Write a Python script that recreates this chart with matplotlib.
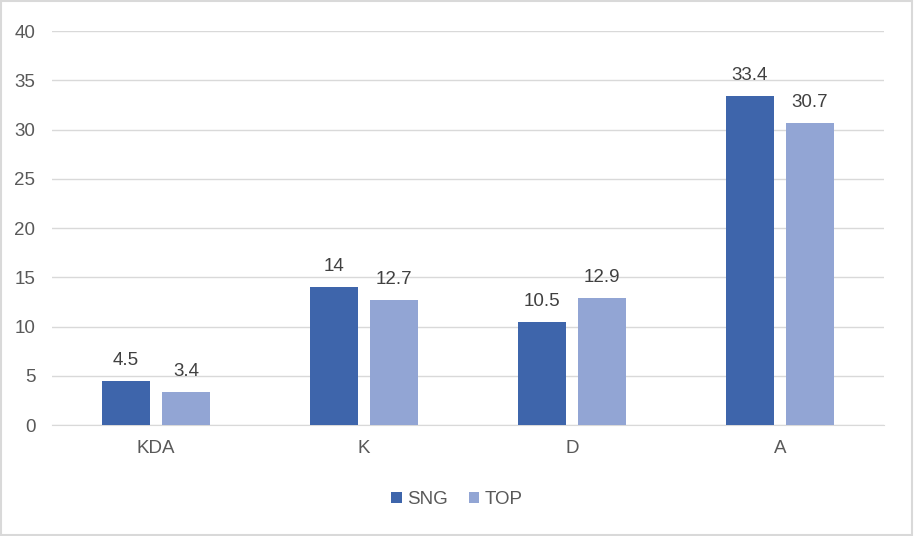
import numpy as np
import matplotlib.pyplot as plt
from matplotlib.patches import Rectangle

# chart data
categories = ["KDA", "K", "D", "A"]
sng = [4.5, 14, 10.5, 33.4]
top = [3.4, 12.7, 12.9, 30.7]
labels_sng = ["4.5", "14", "10.5", "33.4"]
labels_top = ["3.4", "12.7", "12.9", "30.7"]

plt.rcParams['font.family'] = ['Liberation Sans', 'DejaVu Sans']
textColor = "#595959"
fs = 13.5

fig = plt.figure(figsize=(9.14, 5.36), dpi=100)
ax = fig.add_axes([0.057, 0.207, 0.91, 0.735])

x = np.arange(len(categories))
w = 0.23
off = 0.144
barsS = ax.bar(x - off, sng, w, color="#3E65AB", label="SNG", zorder=3)
barsT = ax.bar(x + off, top, w, color="#92A5D4", label="TOP", zorder=3)

for b, t in zip(barsS, labels_sng):
    ax.text(b.get_x() + b.get_width() / 2, b.get_height() + 1.2, t,
            ha="center", va="bottom", fontsize=fs, color="#404040")
for b, t in zip(barsT, labels_top):
    ax.text(b.get_x() + b.get_width() / 2, b.get_height() + 1.2, t,
            ha="center", va="bottom", fontsize=fs, color="#404040")

ax.set_xlim(-0.5, len(categories) - 0.5)
ax.set_ylim(0, 40)
ax.set_yticks(range(0, 41, 5))
ax.set_xticks(x)
ax.set_xticklabels(categories)
ax.yaxis.grid(True, color="#D9D9D9", linewidth=1, zorder=0)
ax.tick_params(axis="both", length=0, labelsize=fs, colors=textColor)
ax.tick_params(axis="x", pad=11)
ax.tick_params(axis="y", pad=12)
for s in ["top", "right", "left"]:
    ax.spines[s].set_visible(False)
ax.spines["bottom"].set_color("#D9D9D9")

leg = fig.legend(handles=[barsS, barsT], loc="center", bbox_to_anchor=(0.5, 0.068),
                 ncol=2, frameon=False, fontsize=fs, handlelength=0.55, handleheight=0.55,
                 handletextpad=0.3, columnspacing=1.1)
for t in leg.get_texts():
    t.set_color(textColor)

fig.patches.append(Rectangle((0.001, 0.001), 0.997, 0.997, transform=fig.transFigure,
                             fill=False, edgecolor="#D9D9D9", linewidth=1.5))

plt.savefig("out.png")
